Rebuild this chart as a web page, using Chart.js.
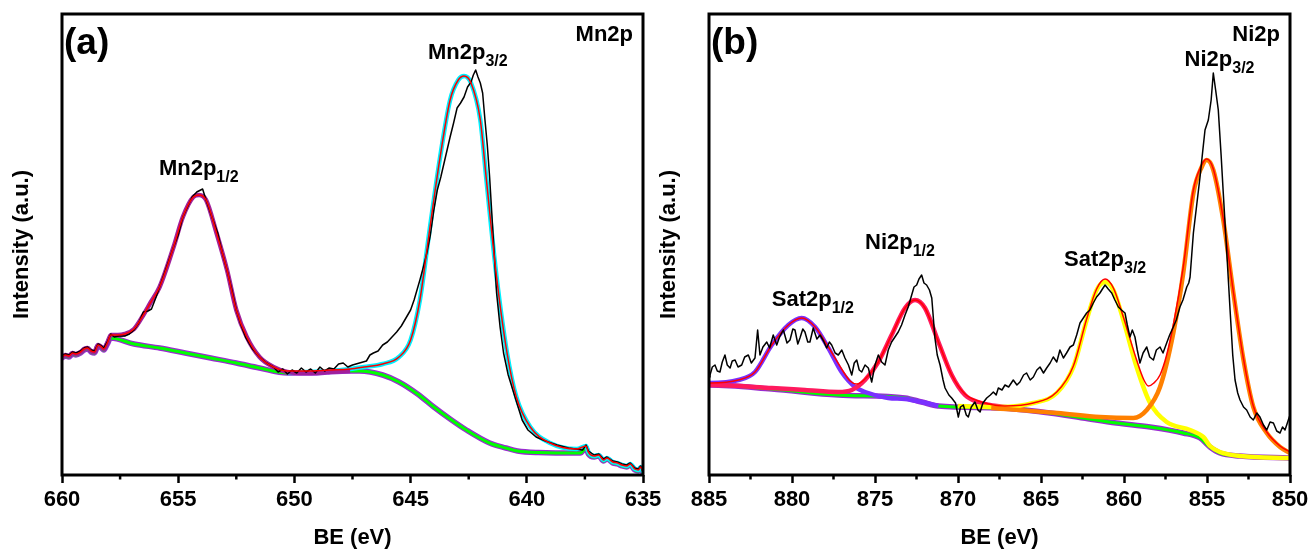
<!DOCTYPE html>
<html>
<head>
<meta charset="utf-8">
<script src="https://cdn.jsdelivr.net/npm/chart.js@4.4.0/dist/chart.umd.min.js"></script>
<style>
  html, body { margin: 0; padding: 0; background: #fff; }
  #wrap { position: relative; width: 1311px; height: 549px; }
  #cA { position: absolute; left: 0; top: 0; }
  #cB { position: absolute; left: 647px; top: 0; }
</style>
</head>
<body>
<div id="wrap">
  <canvas id="cA" width="680" height="549"></canvas>
  <canvas id="cB" width="664" height="549"></canvas>
</div>
<script>
// =====================================================================
// DATA — panel (a) Mn2p   (BE in eV, intensity in a.u.)
// =====================================================================
const A_RAW_BE = [660.00,659.85,659.70,659.55,659.40,659.20,659.05,658.90,658.75,658.60,658.45,658.30,658.20,658.05,657.90,657.75,657.55,657.30,657.10,656.90,656.70,656.50,656.30,656.15,655.95,655.80,655.50,655.20,655.00,654.80,654.60,654.40,654.20,653.95,653.80,653.55,653.30,653.10,652.90,652.70,652.50,652.30,652.10,651.80,651.50,651.20,650.90,650.70,650.50,650.30,650.10,649.90,649.70,649.50,649.30,649.10,648.90,648.70,648.50,648.30,648.10,647.90,647.70,647.50,647.20,646.90,646.75,646.60,646.40,646.20,646.00,645.80,645.60,645.40,645.20,645.00,644.85,644.60,644.45,644.30,644.15,644.00,643.85,643.70,643.50,643.30,643.15,643.00,642.85,642.70,642.55,642.40,642.30,642.20,642.10,642.00,641.90,641.80,641.70,641.60,641.45,641.30,641.15,641.00,640.80,640.60,640.40,640.20,639.95,639.60,639.20,638.70,638.20,637.90,637.60,637.45,637.35,637.10,636.90,636.70,636.55,636.30,636.10,635.90,635.70,635.55,635.35,635.20,635.10,635.00];
const A_RAW_I  = [119,121,120,123,122,124,127,128,125,124,131,129,127,133,141,138,139,139,141,145,152,163,164,166,178,188,208,228,240,258,268,278,283,286,275,258,242,222,205,186,165,150,138,126,118,112,108,103,106,101,105,102,107,103,106,102,108,104,107,106,111,112,108,110,112,114,120,122,124,130,133,138,143,149,157,165,175,195,208,222,240,265,285,298,318,338,352,367,372,378,388,393,400,405,398,392,382,355,330,298,240,182,148,122,100,85,70,55,45,38,34,30,27,26,25,30,24,20,21,16,18,14,13,11,10,12,7,6,9,3];

const A_ENV_BE = [660.00,659.85,659.70,659.55,659.40,659.20,659.05,658.90,658.75,658.60,658.45,658.30,658.20,658.05,657.90,657.60,657.30,656.90,656.50,656.20,655.80,655.20,654.80,654.35,654.10,653.80,653.35,652.90,652.50,652.05,651.50,650.90,650.30,649.50,648.50,647.60,647.00,646.20,645.50,645.00,644.60,644.20,643.75,643.30,642.95,642.70,642.40,642.00,641.75,641.30,640.85,640.45,639.85,639.00,637.85,637.45,637.35,637.10,636.90,636.70,636.55,636.30,636.10,635.90,635.70,635.55,635.35,635.20,635.10,635.00];
const A_ENV_I  = [118,120,119,122,121,123,126,127,124,123,130,128,126,132,140,140,141,146,160,172,188,228,258,278,280,275,242,205,165,138,118,108,104,104,105,106,108,111,118,135,175,242,315,375,395,399,392,355,298,198,122,78,48,32,26,29,23,19,20,15,17,13,12,10,9,11,6,5,8,3];

const A_P12_BE = [660.00,659.85,659.70,659.55,659.40,659.20,659.05,658.90,658.75,658.60,658.45,658.30,658.20,658.05,657.90,657.60,657.30,656.90,656.50,656.20,655.80,655.20,654.80,654.35,654.10,653.80,653.35,652.90,652.50,652.05,651.50,650.90,650.30,649.50,648.60,647.60];
const A_P12_I  = [118,120,119,122,121,123,126,127,124,123,130,128,126,132,140,140,141,146,160,172,188,228,258,278,280,275,242,205,165,138,118,108,103,102,103,104];

const A_P32_BE = [650.30,649.50,648.50,647.60,647.00,646.20,645.50,645.00,644.60,644.20,643.75,643.30,642.95,642.70,642.40,642.00,641.75,641.30,640.85,640.45,639.85,639.00,637.85,637.45,637.35,637.10,636.90,636.70,636.55,636.30,636.10,635.90,635.70,635.55,635.35,635.20,635.10,635.00];
const A_P32_I  = [102,103,104,106,108,111,118,135,175,242,315,375,395,399,392,355,298,198,122,78,48,32,26,29,23,19,20,15,17,13,12,10,9,11,6,5,8,3];

const A_BG_BE = [660.00,659.85,659.70,659.55,659.40,659.20,659.05,658.90,658.75,658.60,658.45,658.30,658.20,658.05,657.90,656.90,655.80,654.70,653.60,652.50,651.50,650.30,649.20,648.60,647.60,647.20,646.20,645.50,644.70,644.00,643.30,642.60,641.60,640.90,640.40,639.50,637.70,637.45,637.35,637.10,636.90,636.70,636.55,636.30,636.10,635.90,635.70,635.55,635.35,635.20,635.10,635.00];
const A_BG_I  = [117,119,118,121,120,122,125,126,123,122,129,127,125,131,137,131,127,122,117,112,107,102,102,103,104,104,100,93,81,68,56,45,32,27,24,22.5,22,27,21,18,19,14,16,12,11,9,8,10,5,4,7,2];

// =====================================================================
// DATA — panel (b) Ni2p
// =====================================================================
const B_RAW_BE = [885.00,884.94,884.80,884.64,884.50,884.34,884.20,884.04,883.90,883.73,883.60,883.43,883.25,883.03,882.85,882.63,882.45,882.23,882.07,881.93,881.75,881.52,881.35,881.13,880.92,880.75,880.52,880.30,880.12,879.95,879.82,879.65,879.52,879.35,879.22,879.05,878.92,878.72,878.50,878.31,878.10,877.91,877.75,877.61,877.40,877.21,877.00,876.81,876.60,876.40,876.25,876.10,875.95,875.80,875.60,875.40,875.20,875.00,874.80,874.60,874.40,874.20,874.00,873.80,873.60,873.40,873.19,873.00,872.79,872.65,872.49,872.35,872.19,872.05,871.89,871.72,871.58,871.39,871.25,871.08,870.90,870.78,870.55,870.38,870.15,869.98,869.85,869.68,869.50,869.38,869.20,868.98,868.80,868.67,868.50,868.27,868.05,867.87,867.70,867.57,867.35,867.17,866.95,866.67,866.45,866.27,866.05,865.87,865.65,865.46,865.25,865.06,864.85,864.66,864.45,864.26,864.05,863.86,863.65,863.46,863.25,863.05,862.85,862.65,862.45,862.25,862.05,861.85,861.65,861.45,861.30,861.14,860.95,860.74,860.55,860.34,860.15,859.94,859.80,859.64,859.50,859.34,859.20,859.04,858.85,858.63,858.45,858.23,858.05,857.83,857.65,857.43,857.25,857.03,856.85,856.63,856.45,856.22,856.10,856.02,855.92,855.82,855.62,855.42,855.25,855.12,854.92,854.75,854.62,854.48,854.32,854.15,854.02,853.80,853.61,853.45,853.31,853.15,853.01,852.80,852.61,852.40,852.21,852.00,851.81,851.60,851.40,851.20,851.00,850.80,850.60,850.45,850.30,850.10,850.00];
const B_RAW_I  = [98,100,108,110,104,103,113,120,110,107,114,115,108,110,118,120,112,117,145,120,128,133,127,140,130,138,145,132,135,146,145,131,137,146,143,133,133,147,136,140,134,127,133,130,122,120,125,117,110,100,112,115,105,103,110,107,93,110,120,113,110,125,133,138,143,150,160,168,180,188,190,196,200,192,190,185,177,137,120,110,95,87,80,77,72,58,68,70,60,58,68,73,65,63,72,77,80,83,80,87,85,90,88,95,90,93,100,102,95,98,105,108,102,107,112,118,113,125,117,122,128,130,140,152,157,162,165,172,178,182,186,190,186,182,175,168,165,162,150,138,145,138,125,112,122,128,118,115,125,128,122,132,140,148,155,168,175,188,192,198,220,242,270,298,325,345,355,375,402,385,365,320,282,220,165,120,95,82,75,68,65,58,55,62,58,50,45,53,52,44,42,48,45,55,60];

const B_ENV_BE = [885.00,884.94,883.23,882.23,881.22,880.22,879.42,878.61,877.81,877.01,876.50,876.10,875.60,874.80,874.00,873.19,872.59,871.99,871.18,870.38,869.58,868.78,867.17,865.46,864.05,863.05,862.25,861.65,861.14,860.64,860.04,859.24,858.80,858.53,858.20,857.83,857.43,857.03,856.43,855.82,855.32,855.02,854.62,854.02,853.41,852.80,852.21,851.40,850.60,850.00];
const B_ENV_I  = [92,92,95,103,130,150,157,148,128,106,94,91,96,113,140,167,175,167,133,100,81,74,69,72,83,109,156,186,196,187,158,115,95,89,92,100,120,150,208,285,310,316,306,256,183,116,69,43,29,23];

const B_SAT12_BE = [885.00,884.94,883.23,882.23,881.22,880.22,879.42,878.61,877.81,877.01,876.20,875.60,874.20,873.19,872.19,871.18];
const B_SAT12_I  = [92,92,95,103,130,150,157,148,127,103,88,83,77,76,73,69];

const B_NI12_BE = [885.00,884.94,881.22,879.22,877.21,876.40,875.60,874.80,874.00,873.19,872.59,871.99,871.18,870.38,869.58,868.78,867.17,866.00];
const B_NI12_I  = [90,90,87,85,83,85,95,113,140,167,175,167,133,100,80,73,68,66];

const B_SAT32_BE = [870.00,867.47,865.46,864.05,863.05,862.25,861.65,861.14,860.64,860.04,859.24,858.43,857.43,856.02,855.22,854.82,854.22,853.01,850.00];
const B_SAT32_I  = [69,68,72,82,108,155,185,193,185,155,108,72,53,45,38,29,23,19,17];

const B_NI32_BE = [868.00,864.00,861.45,859.44,858.63,857.83,857.03,856.43,855.82,855.32,855.02,854.62,854.02,853.41,852.80,852.21,851.40,850.60,850.00];
const B_NI32_I  = [67,62,58,57,65,88,142,202,282,308,315,305,255,182,115,68,42,28,22];

const B_BG_BE = [885.00,884.94,881.22,877.21,873.19,872.19,871.18,867.47,864.47,862.46,860.46,858.43,856.43,855.42,854.82,854.22,853.01,850.00];
const B_BG_I  = [90,90,86,80,77,73,69,67,62,57,52,48,42,37,28,22,19,17];

// =====================================================================
// ETICHETTE (posizione in coordinate dati: BE, intensità)
// =====================================================================
const A_LABELS = [
  { main: 'Mn2p', sub: '1/2', be: 655.83, i: 300 },
  { main: 'Mn2p', sub: '3/2', be: 644.25, i: 416 },
];
const B_LABELS = [
  { main: 'Sat2p', sub: '1/2', be: 881.22, i: 169 },
  { main: 'Ni2p',  sub: '1/2', be: 875.60, i: 226 },
  { main: 'Sat2p', sub: '3/2', be: 863.61, i: 209 },
  { main: 'Ni2p',  sub: '3/2', be: 856.35, i: 409 },
];

const FONT = '"Liberation Sans", Arial, Helvetica, sans-serif';
const pts  = (xs, ys) => xs.map((x, k) => ({ x, y: ys[k] }));

Chart.defaults.font.family = FONT;
Chart.defaults.color = '#000';

// cornice spessa, tacche minori, testi
const framePlugin = {
  id: 'frame',
  afterDraw(chart, args, o) {
    const { ctx, chartArea: a } = chart;
    const x = chart.scales.x, y = chart.scales.y;
    ctx.save();
    ctx.strokeStyle = '#000';
    ctx.lineWidth = 2.5;
    for (let v = o.min + 2.5; v < o.max; v += 5) {
      const px = x.getPixelForValue(v);
      ctx.beginPath(); ctx.moveTo(px, a.bottom); ctx.lineTo(px, a.bottom + 4.5); ctx.stroke();
    }
    ctx.lineWidth = 3;
    ctx.strokeRect(a.left, a.top, a.right - a.left, a.bottom - a.top);

    ctx.fillStyle = '#000';
    ctx.textBaseline = 'alphabetic';
    ctx.textAlign = 'left';
    ctx.font = `bold 37px ${FONT}`;
    ctx.fillText(o.tag, a.left + 2, a.top + 40);

    ctx.textAlign = 'right';
    ctx.font = `bold 22px ${FONT}`;
    ctx.fillText(o.element, a.right - 10, a.top + 27);

    ctx.textAlign = 'left';
    o.labels.forEach(l => {
      const px = x.getPixelForValue(l.be), py = y.getPixelForValue(l.i);
      ctx.font = `bold 22px ${FONT}`;
      ctx.fillText(l.main, px, py);
      const w = ctx.measureText(l.main).width;
      ctx.font = `bold 16px ${FONT}`;
      ctx.fillText(l.sub, px + w, py + 7);
    });
    ctx.restore();
  }
};

function line(data, color, width, order, smooth = true) {
  return {
    data, borderColor: color, borderWidth: width, order,
    pointRadius: 0, fill: false,
    tension: 0, cubicInterpolationMode: smooth ? 'monotone' : 'default',
    borderJoinStyle: 'round',
  };
}

function makePanel(id, min, max, rightPad, datasets, tag, element, labels) {
  return new Chart(document.getElementById(id), {
    type: 'line',
    data: { datasets },
    plugins: [framePlugin],
    options: {
      responsive: false,
      animation: false,
      layout: { padding: { top: 14, right: rightPad, left: 0, bottom: 0 } },
      plugins: {
        legend: { display: false },
        tooltip: { enabled: false },
        frame: { min, max, tag, element, labels },
      },
      scales: {
        x: {
          type: 'linear', reverse: true, min, max,
          afterFit: s => { s.height = 74; s.paddingLeft = 0; s.paddingRight = 0; },
          border: { display: false },
          grid: { display: true, drawOnChartArea: false, drawTicks: true, tickLength: 8, tickWidth: 2.5, tickColor: '#000' },
          ticks: { stepSize: 5, autoSkip: false, padding: 4, maxRotation: 0, color: '#000',
                   font: { size: 22, weight: 'bold' } },
          title: { display: true, text: 'BE (eV)', color: '#000', padding: { top: 0, bottom: 0 },
                   font: { size: 22, weight: 'bold', lineHeight: 1 } },
        },
        y: {
          type: 'linear', min: 0, max: 461,
          afterFit: s => { s.width = 62; s.paddingTop = 0; s.paddingBottom = 0; },
          border: { display: false },
          grid: { display: false },
          ticks: { display: false },
          title: { display: true, text: 'Intensity (a.u.)', color: '#000', padding: { top: 9, bottom: 0 },
                   font: { size: 22, weight: 'bold', lineHeight: 1.2 } },
        },
      },
    },
  });
}

// =====================================================================
// INIT
// =====================================================================
makePanel('cA', 635, 660, 37, [
  line(pts(A_ENV_BE, A_ENV_I), '#ff0000', 1.5, 0),
  line(pts(A_RAW_BE, A_RAW_I), '#000000', 1.5, 1, false),
  line(pts(A_P12_BE, A_P12_I), '#a0209a', 4.5, 2),
  line(pts(A_P32_BE, A_P32_I), '#00f0ff', 4.5, 3),
  line(pts(A_BG_BE, A_BG_I), '#00ff00', 3, 4),
  line(pts(A_BG_BE, A_BG_I), '#9a2bd0', 5.5, 5),
], '(a)', 'Mn2p', A_LABELS);

makePanel('cB', 850, 885, 21, [
  line(pts(B_RAW_BE, B_RAW_I), '#000000', 1.5, 0, false),
  line(pts(B_ENV_BE, B_ENV_I), '#ff0000', 1.5, 1),
  line(pts(B_NI32_BE, B_NI32_I), '#ff8000', 4.5, 2),
  line(pts(B_SAT32_BE, B_SAT32_I), '#ffff00', 4.5, 3),
  line(pts(B_NI12_BE, B_NI12_I), '#ff1a5e', 4.5, 4),
  line(pts(B_SAT12_BE, B_SAT12_I), '#7a30ff', 4.5, 5),
  line(pts(B_BG_BE, B_BG_I), '#00ff00', 3, 6),
  line(pts(B_BG_BE, B_BG_I), '#9a2bd0', 5.5, 7),
], '(b)', 'Ni2p', B_LABELS);
</script>
</body>
</html>
